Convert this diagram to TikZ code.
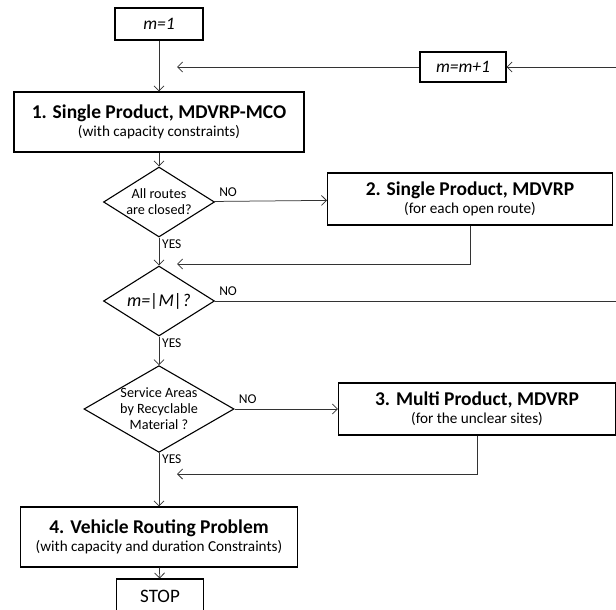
\documentclass[tikz,border=0pt]{standalone}
\usepackage{fontspec}
\setmainfont{Carlito}
\usetikzlibrary{shapes.geometric,arrows.meta}

\tikzset{
  stepbox/.style={draw, line width=1.1pt, align=center, inner sep=2pt},
  decision/.style={diamond, draw, line width=1.1pt, align=center, inner sep=0pt,
                   font=\fontsize{14.2}{16}\selectfont},
  flow/.style={draw=black!80, line width=0.75pt},
  flowto/.style={flow, -{Straight Barb[length=5pt,width=10pt]}},
  ans/.style={font=\fontsize{13.5}{15}\selectfont, inner sep=1pt},
}
% bold heading over a smaller remark, for the big process boxes
\newcommand{\stagetext}[2]{{\fontsize{19.5}{22}\selectfont\bfseries #1}\\[3pt]{\fontsize{15.2}{17}\selectfont #2}}

\begin{document}
\begin{tikzpicture}[x=1pt,y=-1pt]
  \useasboundingbox (0,0) rectangle (616,610);

  % counter boxes
  \node[stepbox, minimum width=88pt, minimum height=32pt, font=\fontsize{17.5}{20}\selectfont\itshape] (init) at (159,24) {m=1};
  \node[stepbox, minimum width=86pt, minimum height=30pt, font=\fontsize{17.5}{20}\selectfont\itshape] (upd) at (463,67) {m=m+1};

  % main column
  \node[stepbox, minimum width=290pt, minimum height=60pt] (single) at (159,122) {\stagetext{1. Single Product, MDVRP-MCO}{(with capacity constraints)}};
  \node[decision, minimum width=111pt, minimum height=70pt, aspect=1.6] (closed) at (159,202) {All routes\\are closed?};
  \node[decision, minimum width=111pt, minimum height=70pt, aspect=1.6, font=\fontsize{18}{20}\selectfont\itshape] (last) at (159,301) {m=|M|?};
  \node[decision, minimum width=149pt, minimum height=86pt, aspect=1.73] (areas) at (159,409) {Service Areas\\by Recyclable\\Material ?};
  \node[stepbox, minimum width=277pt, minimum height=60pt] (vrp) at (159,537) {\stagetext{4. Vehicle Routing Problem}{(with capacity and duration Constraints)}};
  \node[stepbox, minimum width=87pt, minimum height=34pt, font=\fontsize{19}{22}\selectfont] (stop) at (160,596) {STOP};

  % side column
  \node[stepbox, minimum width=285pt, minimum height=52pt] (open) at (470,199) {\stagetext{2. Single Product, MDVRP}{(for each open route)}};
  \node[stepbox, minimum width=277pt, minimum height=52pt] (multi) at (477,409) {\stagetext{3. Multi Product, MDVRP}{(for the unclear sites)}};

  % answers
  \node[ans, anchor=south west] (no1) at ([xshift=3pt,yshift=4pt]closed.east) {NO};
  \node[ans, anchor=south west] (no2) at ([xshift=3pt,yshift=4pt]last.east) {NO};
  \node[ans, anchor=south west] (no3) at ([xshift=3pt,yshift=4pt]areas.east) {NO};
  \node[ans, anchor=north west] (yes1) at ([xshift=2pt,yshift=-1pt]closed.south) {YES};
  \node[ans, anchor=north west] (yes2) at ([xshift=2pt,yshift=-1pt]last.south) {YES};
  \node[ans, anchor=north west] (yes3) at ([xshift=2pt,yshift=-1pt]areas.south) {YES};

  % loose ends of the loop and the joins
  \coordinate (edgein) at (616,67);
  \coordinate (edgeout) at (616,301);
  \coordinate (back) at (177,67);
  \coordinate (join1) at (177,264);
  \coordinate (join2) at (177,474);

  \draw[flowto] (init) -- (single);
  \draw[flowto] (single) -- (closed);
  \draw[flowto] (closed) -- (open);
  \draw[flowto] (closed) -- (last);
  \draw[flowto] (open.south) |- (join1);
  \draw[flow] (last) -- (edgeout);
  \draw[flowto] (edgein) -- (upd);
  \draw[flowto] (upd) -- (back);
  \draw[flowto] (last) -- (areas);
  \draw[flowto] (areas) -- (multi);
  \draw[flowto] (multi.south) |- (join2);
  \draw[flowto] (areas) -- (vrp);
  \draw[flowto] (vrp) -- (stop);
\end{tikzpicture}
\end{document}
